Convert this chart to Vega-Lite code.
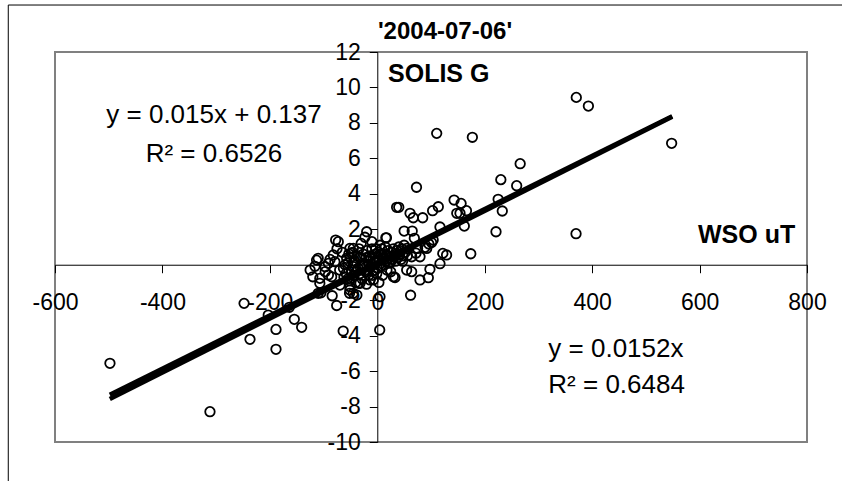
{
  "$schema": "https://vega.github.io/schema/vega-lite/v6.json",
  "width": 752,
  "height": 390,
  "autosize": {"type": "none"},
  "padding": {"left": 55, "top": 52, "right": 35, "bottom": 39},
  "background": "white",
  "title": {
    "text": "'2004-07-06'",
    "font": "Liberation Sans",
    "fontSize": 24,
    "fontWeight": "bold",
    "color": "black",
    "anchor": "middle",
    "frame": "group",
    "baseline": "alphabetic",
    "dx": 14,
    "offset": -58
  },
  "config": {
    "view": {"stroke": "#808080", "strokeWidth": 2},
    "axis": {
      "grid": false,
      "domainColor": "black",
      "domainWidth": 1,
      "tickColor": "black",
      "tickWidth": 1,
      "tickSize": 8,
      "labelColor": "black",
      "labelFont": "Liberation Sans",
      "labelFontSize": 23,
      "labelOverlap": false,
      "labelFlush": false,
      "labelBound": false,
      "title": null
    },
    "text": {"font": "Liberation Sans", "color": "black"}
  },
  "datasets": {
    "points": [
      {"x": 370.5, "y": 9.44}, {"x": 393, "y": 8.95}, {"x": 548, "y": 6.85}, {"x": 110.6, "y": 7.41},
      {"x": 177, "y": 7.19}, {"x": 266, "y": 5.7}, {"x": 230, "y": 4.8}, {"x": 259.5, "y": 4.46},
      {"x": 225, "y": 3.69}, {"x": 232.7, "y": 3.03}, {"x": 221, "y": 1.86}, {"x": 370, "y": 1.75},
      {"x": 174, "y": 0.62}, {"x": 73, "y": 4.37}, {"x": 36, "y": 3.24}, {"x": 40, "y": 3.24},
      {"x": 61, "y": 2.9}, {"x": 67, "y": 2.65}, {"x": 84.5, "y": 2.65}, {"x": 103, "y": 3.05},
      {"x": 113.6, "y": 3.27}, {"x": 143, "y": 3.65}, {"x": 156, "y": 3.46}, {"x": 148, "y": 2.9},
      {"x": 154, "y": 2.9}, {"x": 166, "y": 3.05}, {"x": 162, "y": 2.18}, {"x": 116.7, "y": 2.13},
      {"x": 50, "y": 1.9}, {"x": 65, "y": 1.9}, {"x": 69, "y": 1.49}, {"x": 17, "y": 1.52},
      {"x": 104, "y": 1.39}, {"x": 96, "y": 1.17}, {"x": 92, "y": 0.92}, {"x": 75, "y": 0.92},
      {"x": 79.5, "y": 0.45}, {"x": 64, "y": 0.45}, {"x": 122, "y": 0.64}, {"x": 129, "y": 0.55},
      {"x": 116.7, "y": 0.06}, {"x": 98, "y": -0.26}, {"x": 95, "y": -0.73}, {"x": 79.5, "y": -0.86},
      {"x": 64, "y": -0.39}, {"x": 62, "y": -1.72}, {"x": 30, "y": -0.68}, {"x": 3, "y": -1.0},
      {"x": 55, "y": 0.92}, {"x": 4.5, "y": -3.68}, {"x": 89, "y": 0.98}, {"x": 101, "y": 1.25},
      {"x": 72, "y": 0.65},
      {"x": -497.7, "y": -5.56}, {"x": -311.5, "y": -8.29}, {"x": -248, "y": -2.18}, {"x": -237, "y": -4.21},
      {"x": -188.6, "y": -3.65}, {"x": -188.6, "y": -4.77}, {"x": -203, "y": -2.84}, {"x": -154.5, "y": -3.08},
      {"x": -140.8, "y": -3.53}, {"x": -163.8, "y": -2.4}, {"x": -110, "y": -1.61}, {"x": -105, "y": -1.58},
      {"x": -84, "y": -1.75}, {"x": -75.6, "y": -2.3}, {"x": -63.5, "y": -3.74}, {"x": -51.6, "y": -1.61},
      {"x": -44.7, "y": -1.61}, {"x": -38, "y": -1.71},
      {"x": -113, "y": 0.26}, {"x": -116, "y": -0.09}, {"x": -120, "y": -0.68}, {"x": -107, "y": -0.77},
      {"x": -107, "y": -1.05}, {"x": -97, "y": -0.39}, {"x": -97, "y": -0.11}, {"x": -110, "y": 0.36},
      {"x": -82, "y": 0.55}, {"x": -79, "y": 0.17}, {"x": -91, "y": 0.08}, {"x": -85, "y": -0.68},
      {"x": -91, "y": -0.58}, {"x": -63, "y": -0.2}, {"x": -51, "y": 0.92}, {"x": -48, "y": 0.64},
      {"x": -57, "y": 0.36}, {"x": -69.5, "y": -1.15}, {"x": -51, "y": -1.24}, {"x": -51, "y": -1.43},
      {"x": -35, "y": -1.05}, {"x": -32, "y": -1.05}, {"x": -13.6, "y": -0.86}, {"x": -1, "y": -0.49},
      {"x": 5, "y": -1.8}, {"x": 33, "y": -0.72}, {"x": 54.7, "y": -0.3}, {"x": -72.6, "y": 1.3},
      {"x": -77.5, "y": 1.39}, {"x": -19.7, "y": 1.86}, {"x": -23, "y": 1.55}, {"x": 16, "y": 1.52},
      {"x": -44.7, "y": 0.92}, {"x": -44.7, "y": -0.11}, {"x": -7.4, "y": -0.86}, {"x": -65, "y": 0.7},
      {"x": -70, "y": -0.3}, {"x": -75, "y": 0.9}, {"x": -125, "y": -0.3}, {"x": -88, "y": 0.3},
      {"x": -58, "y": -0.5}, {"x": -55, "y": 0.1}, {"x": -52, "y": -0.9}, {"x": -50, "y": 0.4},
      {"x": -48, "y": -0.3}, {"x": -46, "y": 0.7}, {"x": -44, "y": -0.6}, {"x": -42, "y": 0.2},
      {"x": -40, "y": -1.0}, {"x": -38, "y": 0.5}, {"x": -36, "y": -0.2}, {"x": -34, "y": 0.9},
      {"x": -32, "y": -0.5}, {"x": -30, "y": 0.3}, {"x": -28, "y": -0.8}, {"x": -26, "y": 0.6},
      {"x": -24, "y": 0.0}, {"x": -22, "y": -0.4}, {"x": -20, "y": 0.8}, {"x": -18, "y": 0.2},
      {"x": -16, "y": -0.6}, {"x": -14, "y": 0.5}, {"x": -12, "y": -0.1}, {"x": -10, "y": 0.9},
      {"x": -8, "y": 0.3}, {"x": -6, "y": -0.3}, {"x": -4, "y": 0.6}, {"x": -2, "y": 0.1},
      {"x": 0, "y": -0.2}, {"x": 2, "y": 0.7}, {"x": 4, "y": 0.3}, {"x": 6, "y": -0.1},
      {"x": 8, "y": 0.9}, {"x": 10, "y": 0.4}, {"x": 12, "y": 0.0}, {"x": 14, "y": 0.6},
      {"x": 16, "y": 0.2}, {"x": 18, "y": -0.3}, {"x": 20, "y": 0.8}, {"x": 22, "y": 0.4},
      {"x": 24, "y": 0.1}, {"x": 26, "y": 0.7}, {"x": 28, "y": 0.3}, {"x": 30, "y": 0.9},
      {"x": 32, "y": 0.5}, {"x": 34, "y": 0.2}, {"x": 36, "y": 0.8}, {"x": 38, "y": 0.4},
      {"x": 40, "y": 1.0}, {"x": 42, "y": 0.6}, {"x": 44, "y": 0.3}, {"x": 46, "y": 0.9},
      {"x": 48, "y": 0.5}, {"x": 50, "y": 1.1}, {"x": 52, "y": 0.7}, {"x": -30, "y": 1.2},
      {"x": -10, "y": 1.3}, {"x": 5, "y": 1.1}, {"x": -55, "y": -0.8}, {"x": -20, "y": -1.1},
      {"x": 10, "y": -0.6}, {"x": 25, "y": -0.4},
      {"x": -60, "y": 0.0}, {"x": -53, "y": 0.6}, {"x": -45, "y": 0.1}, {"x": -39, "y": -0.4},
      {"x": -33, "y": 0.4}, {"x": -27, "y": 0.0}, {"x": -21, "y": 0.4}, {"x": -15, "y": 0.0},
      {"x": -9, "y": -0.6}, {"x": -5, "y": 0.2}, {"x": 1, "y": 0.4}, {"x": 7, "y": 0.6},
      {"x": 13, "y": 0.3}, {"x": 19, "y": 0.5}, {"x": 27, "y": 0.5}, {"x": 35, "y": 0.6},
      {"x": 43, "y": 0.8}, {"x": 47, "y": 0.2}, {"x": 56, "y": 0.5}, {"x": -3, "y": 0.9},
      {"x": 15, "y": 1.0}, {"x": -62, "y": -0.7}, {"x": -17, "y": -0.3}, {"x": 21, "y": 0.1}
    ],
    "trend": [
      {"fit": "y = 0.015x + 0.137", "x": -498, "y": -7.333},
      {"fit": "y = 0.015x + 0.137", "x": 549, "y": 8.372},
      {"fit": "y = 0.0152x", "x": -498, "y": -7.57},
      {"fit": "y = 0.0152x", "x": 549, "y": 8.345}
    ],
    "one": [{}]
  },
  "layer": [
    {
      "data": {"name": "one"},
      "mark": {"type": "rect", "fillOpacity": 0, "stroke": "black", "strokeWidth": 1},
      "encoding": {
        "x": {"datum": -687, "type": "quantitative", "scale": {"domain": [-600, 800], "nice": false, "zero": false}},
        "x2": {"datum": 2000},
        "y": {"datum": 14.65, "type": "quantitative", "scale": {"domain": [-10, 12], "nice": false, "zero": false}},
        "y2": {"datum": -30}
      }
    },
    {
      "data": {"name": "points"},
      "mark": {"type": "point", "shape": "circle", "filled": false, "stroke": "black", "strokeWidth": 1.8, "size": 90, "opacity": 1},
      "encoding": {
        "x": {
          "field": "x", "type": "quantitative",
          "scale": {"domain": [-600, 800], "nice": false, "zero": false},
          "axis": {"orient": "bottom", "offset": -177.27, "values": [-600, -400, -200, 0, 200, 400, 600, 800], "tickCount": 20, "labelPadding": 19, "labelExpr": "'' + datum.value", "labelOverlap": false}
        },
        "y": {
          "field": "y", "type": "quantitative",
          "scale": {"domain": [-10, 12], "nice": false, "zero": false},
          "axis": {"orient": "left", "offset": -322.29, "values": [-10, -8, -6, -4, -2, 0, 2, 4, 6, 8, 10, 12], "tickCount": 20, "labelPadding": 9, "labelExpr": "'' + datum.value", "labelOverlap": false}
        }
      }
    },
    {
      "data": {"name": "trend"},
      "mark": {"type": "line", "color": "black", "strokeWidth": 4.5, "strokeCap": "butt"},
      "encoding": {
        "x": {"field": "x", "type": "quantitative", "scale": {"domain": [-600, 800], "nice": false, "zero": false}},
        "y": {"field": "y", "type": "quantitative", "scale": {"domain": [-10, 12], "nice": false, "zero": false}},
        "detail": {"field": "fit"}
      }
    },
    {
      "data": {"name": "one"},
      "mark": {"type": "text", "text": "SOLIS G", "align": "left", "baseline": "alphabetic", "fontSize": 25, "fontWeight": "bold"},
      "encoding": {"x": {"datum": 20, "type": "quantitative"}, "y": {"datum": 10.32, "type": "quantitative"}}
    },
    {
      "data": {"name": "one"},
      "mark": {"type": "text", "text": "WSO uT", "align": "right", "baseline": "alphabetic", "fontSize": 25, "fontWeight": "bold"},
      "encoding": {"x": {"datum": 778, "type": "quantitative"}, "y": {"datum": 1.24, "type": "quantitative"}}
    },
    {
      "data": {"name": "one"},
      "mark": {"type": "text", "text": "y = 0.015x + 0.137", "align": "center", "baseline": "alphabetic", "fontSize": 26},
      "encoding": {"x": {"datum": -304, "type": "quantitative"}, "y": {"datum": 7.98, "type": "quantitative"}}
    },
    {
      "data": {"name": "one"},
      "mark": {"type": "text", "text": "R² = 0.6526", "align": "center", "baseline": "alphabetic", "fontSize": 26},
      "encoding": {"x": {"datum": -304, "type": "quantitative"}, "y": {"datum": 5.81, "type": "quantitative"}}
    },
    {
      "data": {"name": "one"},
      "mark": {"type": "text", "text": "y = 0.0152x", "align": "left", "baseline": "alphabetic", "fontSize": 26},
      "encoding": {"x": {"datum": 318.4, "type": "quantitative"}, "y": {"datum": -5.19, "type": "quantitative"}}
    },
    {
      "data": {"name": "one"},
      "mark": {"type": "text", "text": "R² = 0.6484", "align": "left", "baseline": "alphabetic", "fontSize": 26},
      "encoding": {"x": {"datum": 318.4, "type": "quantitative"}, "y": {"datum": -7.25, "type": "quantitative"}}
    }
  ]
}
